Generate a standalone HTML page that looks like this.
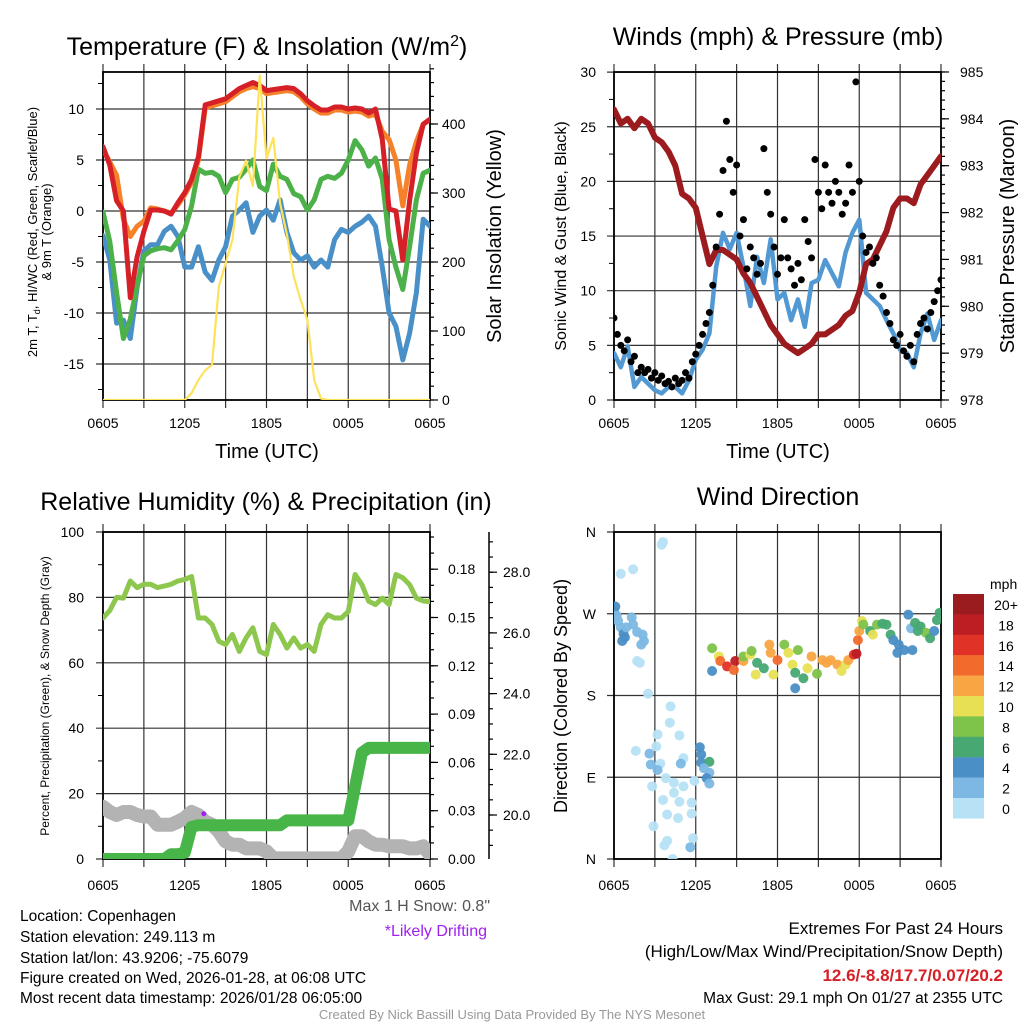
<!DOCTYPE html>
<html><head><meta charset="utf-8"><title>Mesonet station chart</title>
<style>
html,body{margin:0;padding:0;background:#fff;}
svg{display:block;font-family:"Liberation Sans",Arial,sans-serif;}
</style></head>
<body>
<svg id="fig" width="1024" height="1024" viewBox="0 0 1024 1024" xmlns="http://www.w3.org/2000/svg">
<defs>
<clipPath id="c1"><rect x="103" y="72" width="327" height="328"/></clipPath>
<clipPath id="c2"><rect x="614" y="72" width="327" height="328"/></clipPath>
<clipPath id="c3"><rect x="103" y="532" width="327" height="327"/></clipPath>
<clipPath id="c4"><rect x="614" y="532" width="327" height="327"/></clipPath>
</defs>
<g id="layer"></g>
</svg>
<script>
// ---------- data ----------
const timeLabels = ["0605","1205","1805","0005","0605"];
const tempTicks = [-15,-10,-5,0,5,10];
const insolTicks = [0,100,200,300,400];
const windTicks = [0,5,10,15,20,25,30];
const presTicks = [978,979,980,981,982,983,984,985];
const rhTicks = [0,20,40,60,80,100];
const precipTicks = ["0.00","0.03","0.06","0.09","0.12","0.15","0.18"];
const snowTicks = ["20.0","22.0","24.0","26.0","28.0"];
const dirLabels = ["N","E","S","W","N"];
const speedBins = ["0","2","4","6","8","10","12","14","16","18","20+"];
const speedColors = ["#b7e2f6","#7cb8e3","#4a8fc6","#47a872","#7ec34a","#e8e054","#f8a543","#f26a2c","#e03227","#bd1e24","#9b1c1f"];

const temp2m = [6.3,4.5,1.0,0.0,-8.5,-4.5,-2.0,0.1,0.1,0.0,-0.3,0.8,1.8,3.1,5.3,10.4,10.6,10.8,11.0,11.5,12.0,12.3,12.6,12.3,11.8,11.9,12.0,12.1,12.0,11.5,10.8,10.3,9.9,9.9,10.2,10.2,10.0,10.1,10.0,9.6,10.0,7.0,0.2,0.0,-4.8,1.0,5.7,8.5,9.0];
const temp9m = [6.0,4.8,3.5,-0.8,-2.5,-1.5,-1.0,0.3,0.2,0.0,-0.2,0.6,1.6,2.8,5.0,10.1,10.3,10.5,10.7,11.2,11.7,12.0,12.2,12.0,11.5,11.6,11.7,11.8,11.7,11.2,10.5,10.0,9.6,9.6,9.9,9.9,9.7,9.8,9.7,9.3,9.5,7.8,7.0,5.0,0.5,4.5,6.8,8.5,9.0];
const dewpt = [-0.1,-3.0,-8.0,-12.5,-10.6,-7.3,-4.4,-3.9,-3.7,-3.6,-3.8,-2.9,-1.8,0.5,4.1,3.7,3.8,3.4,1.8,3.1,3.3,4.1,5.0,2.4,2.0,4.6,3.4,3.1,1.7,1.4,0.1,1.1,3.1,3.4,3.2,3.7,5.0,6.9,6.0,4.4,5.2,3.1,-2.8,-5.5,-7.7,-3.5,1.1,3.7,4.0];
const windChill = [-2.4,-4.8,-11.0,-10.7,-12.5,-7.5,-3.9,-3.3,-3.3,-2.0,-1.5,-2.5,-5.5,-5.5,-3.5,-6.0,-6.8,-4.8,-3.5,-0.5,0.1,0.8,-2.1,-0.5,0.1,-0.9,1.1,-2.1,-4.1,-4.8,-4.4,-5.5,-4.8,-5.5,-2.8,-1.8,-2.1,-1.5,-1.1,-0.5,-1.5,-5.5,-10.0,-11.3,-14.6,-12.0,-8.0,-0.8,-1.5];
const insolation = [0,0,0,0,0,0,0,0,0,0,0,0,0,10,29,43,51,164,198,232,323,347,310,470,350,380,285,240,179,145,116,29,2,0,0,0,0,0,0,0,0,0,0,0,0,0,0,0,0];

const pressure = [984.2,983.9,984.0,983.8,984.0,983.9,983.6,983.5,983.3,983.0,982.4,982.3,982.1,981.5,980.9,981.2,981.2,981.1,981.0,980.7,980.5,980.2,979.9,979.6,979.4,979.2,979.1,979.0,979.1,979.2,979.4,979.4,979.5,979.6,979.8,979.9,980.3,980.9,981.0,981.3,981.6,982.1,982.3,982.3,982.2,982.6,982.8,983.0,983.2];
const windSpeed = [4.3,3.0,4.9,1.2,2.1,1.5,0.9,0.6,1.2,1.2,0.6,1.8,3.7,4.6,6.1,12.2,15.3,13.8,15.3,12.2,8.6,13.1,10.7,14.7,9.2,9.8,7.3,9.2,6.7,10.7,11.0,12.8,11.6,10.4,13.5,15.3,16.5,9.8,9.2,8.6,7.3,6.1,4.6,4.3,3.0,6.1,7.9,5.5,7.3];
const windGust = [7.5,6,5,4.5,5.5,3.5,4,2.5,3,2.5,2.8,2,2.5,1.8,2.2,1.5,1.7,1.2,2,1.5,1.8,2.5,2,3.5,4.2,5,6,7,8,10.5,14,17,21,25.5,22,19,21.5,15,16.5,12,14,13,11.5,12.5,23,19,17,14,11.5,13,16.5,13,12,10.5,12.5,11,16.5,14.5,13,22,19,17.5,21.5,19,18,20,19,17,18,21.5,19,29.1,20,15,13.5,14,12.5,13,10.5,9.5,8,7,5.5,5,6,4.5,4,5,3.5,6,7,7.5,6.5,8,9,10,11];

const relHum = [73.7,76,80,79.8,85,83,84,84,83,83.5,84,85,85.5,86.4,73.7,73.7,71.7,66.6,65.6,68.7,63.5,67.6,70.7,63.5,62.5,71.7,68.7,64.5,67.6,64.5,65.6,63.5,71.7,74.7,73.7,73.7,75.7,87,83.9,78.8,77.8,79.8,77.8,87,86,83.9,79.8,78.9,78.7];
const precip = [0,0,0,0,0,0,0,0,0,0,0.003,0.003,0.004,0.02,0.021,0.021,0.021,0.021,0.021,0.021,0.021,0.021,0.021,0.021,0.021,0.021,0.021,0.024,0.024,0.024,0.024,0.024,0.024,0.024,0.024,0.024,0.024,0.045,0.066,0.069,0.069,0.069,0.069,0.069,0.069,0.069,0.069,0.069,0.069];
const snowDepth = [20.27,20.1,20.0,20.1,20.1,20.0,19.95,19.95,19.68,19.68,19.68,19.78,19.9,20.1,20.0,19.78,19.68,19.46,19.13,19.02,19.02,18.9,18.9,18.9,18.8,18.57,18.57,18.57,18.57,18.57,18.57,18.57,18.57,18.57,18.57,18.57,18.8,19.3,19.3,19.13,19.02,19.02,18.97,18.97,18.97,18.9,18.9,18.97,18.7];
const driftHour = [7.4];
const driftSnow = [20.04];

const dirHours = [0.0,0.1,0.2,0.3,0.5,0.7,0.8,0.9,0.6,1.3,1.4,2.1,2.2,1.7,2.0,0.5,1.4,3.5,3.6,1.7,1.9,2.5,
 4.15,4.1,3.2,4.8,1.6,3.1,2.6,2.7,3.4,3.2,5.1,4.9,3.8,4.4,5.1,2.8,4.4,3.6,4.8,5.7,3.9,4.7,5.7,2.9,3.9,3.7,5.8,5.6,4.3,6.3,6.4,6.4,7.0,6.6,7.0,6.8,7.0,5.9,
 7.2,7.2,7.7,7.8,8.3,8.9,8.8,9.5,9.5,10.0,10.1,10.5,10.4,11.0,11.4,11.5,12.0,11.7,12.5,12.8,13.1,13.5,13.3,13.9,13.3,14.2,14.5,14.9,15.3,15.6,15.9,16.4,16.7,17.0,17.2,17.6,17.8,17.9,18.0,18.2,
 18.3,18.8,19.3,19.7,19.0,20.0,20.3,20.5,20.9,20.8,21.3,21.6,21.8,22.1,22.5,22.9,23.2,23.5,23.7,23.9,22.3,21.9];
const dirDegrees = [272,278,268,262,255,248,244,255,240,266,258,247,240,250,236,314,319,346,349,218,216,182,
 168,150,137,136,119,124,116,104,105,98,111,105,89,84,80,80,73,65,63,62,49,45,50,36,20,15,23,13,0,123,115,106,107,100,95,89,83,86,
 232,207,223,218,212,218,208,218,223,225,229,216,203,210,236,227,219,203,236,227,214,230,205,199,188,210,223,204,219,216,219,214,207,214,219,225,226,241,251,262,
 258,251,258,259,247,258,247,241,236,227,230,269,254,260,256,249,243,251,263,271,251,230];
const dirSpeeds = [4,4,3,3,3,4,4,3,4,2,3,3,3,3,2,1,1,0,0,1,1,1,
 0,0,1,0,0,1,3,3,1,3,1,3,0,0,0,0,0,0,0,0,0,0,0,0,0,0,0,3,0,4,4,4,7,3,3,4,3,1,
 8,4,10,14,17,18,15,12,8,10,8,7,10,7,12,12,14,10,8,10,10,8,6,6,4,10,12,8,12,12,12,12,10,10,12,16,18,14,12,10,
 8,7,8,7,10,6,6,4,4,4,4,4,2,6,6,8,6,4,6,6,6,4];

// ---------- helpers ----------
const NS="http://www.w3.org/2000/svg";
const root=document.getElementById('layer');
function mk(tag,attrs,parent){const e=document.createElementNS(NS,tag);for(const k in attrs)e.setAttribute(k,attrs[k]);(parent||root).appendChild(e);return e;}
function txt(s,x,y,size,anchor,parent,extra){const e=mk('text',Object.assign({x:x,y:y,'font-size':size,'text-anchor':anchor||'middle',fill:'#000'},extra||{}),parent);e.textContent=s;return e;}
const halfHours=temp2m.map((_,i)=>i*0.5);
const qHours=windGust.map((_,i)=>i*0.25);
const W=327;
const x1=h=>103+h*W/24, x2=h=>614+h*W/24;
const yT=v=>211-v*10.2, yS=s=>400-s*0.69;
const yW=v=>400-v*10.93, yP=p=>400-(p-978)*46.86;
const yRH=r=>859-r*3.27, yPr=p=>859-p/0.03*48.3, ySn=s=>815-(s-20)*30.35;
const yD=d=>859-d*(327/360);
function x4(h){return 614+h*W/24;}
function pathD(xs,ys){return xs.map((x,i)=>(i?'L':'M')+x.toFixed(1)+' '+ys[i].toFixed(1)).join(' ');}
function grid(g,L,T,R,B,hys){
  for(let k=0;k<=8;k++){const x=L+k*(R-L)/8;mk('line',{x1:x,y1:T-8,x2:x,y2:B+8,stroke:'#333','stroke-width':1.2},g);}
  hys.forEach(y=>mk('line',{x1:L-7,y1:y,x2:R,y2:y,stroke:'#333','stroke-width':1.2},g));
  mk('rect',{x:L,y:T,width:R-L,height:B-T,fill:'none',stroke:'#000','stroke-width':1.8},g);
}
function xlabels(g,L,R,y){timeLabels.forEach((s,i)=>{const t=txt(s,L+i*(R-L)/4,y,14,'middle',g);});}
function rticks(g,x,ys,len){ys.forEach(y=>mk('line',{x1:x,y1:y,x2:x+len,y2:y,stroke:'#000','stroke-width':1.2},g));}

// ============ Panel 1 ============
const p1=mk('g',{});


let t=txt('',267,55,25,'middle',p1);
t.innerHTML='Temperature (F) &amp; Insolation (W/m<tspan dy="-9" font-size="16">2</tspan><tspan dy="9">)</tspan>';


grid(p1,103,72,430,400,tempTicks.map(yT));
for(let v=-17.5;v<=12.5;v+=2.5){if(v%5!==0)mk('line',{x1:98,y1:yT(v),x2:103,y2:yT(v),stroke:'#000'},p1);}
tempTicks.forEach(v=>{const e=txt(String(v),84,yT(v)+5,14,'end',p1);});
const minorI=[];for(let s=0;s<=480;s+=20)minorI.push(yS(s));rticks(p1,430,minorI,4);
rticks(p1,430,insolTicks.map(yS),8);
insolTicks.forEach(v=>{const e=txt(String(v),442,yS(v)+5,14,'start',p1);});
xlabels(p1,103,430,428);
t=txt('Time (UTC)',267,458,20,'middle',p1);


t=txt('Solar Insolation (Yellow)',0,0,20,'middle',p1,{transform:'translate(501,236) rotate(-90)'});


t=txt('',0,0,13,'middle',p1,{transform:'translate(37,232) rotate(-90)'});
t.innerHTML='2m T, T<tspan dy="3" font-size="9">d</tspan><tspan dy="-3">, HI/WC (Red, Green, Scarlet/Blue)</tspan>';


t=txt('& 9m T (Orange)',0,0,13,'middle',p1,{transform:'translate(51,232) rotate(-90)'});


const s1=mk('g',{'clip-path':'url(#c1)','fill':'none','stroke-linejoin':'round','stroke-linecap':'round'},p1);
[[windChill,'#4a90c8','wind-chill-line',5],[dewpt,'#4bb148','dewpoint-line',5],[temp9m,'#f5812a','temp-9m-line',5],[temp2m,'#d62027','temp-2m-line',5]].forEach(([arr,c,n,w])=>{
  const e=mk('path',{d:pathD(halfHours.map(x1),arr.map(yT)),stroke:c,'stroke-width':w},s1);
  
  
});
let ins=mk('path',{d:pathD(halfHours.map(x1),insolation.map(yS)),stroke:'#fde25a','stroke-width':2.2},s1);



// ============ Panel 2 ============
const p2=mk('g',{});


t=txt('Winds (mph) & Pressure (mb)',778,45,25,'middle',p2);


grid(p2,614,72,941,400,windTicks.map(yW));
for(let v=2.5;v<30;v+=5)mk('line',{x1:609,y1:yW(v),x2:614,y2:yW(v),stroke:'#000'},p2);
windTicks.forEach(v=>{const e=txt(String(v),596,yW(v)+5,14,'end',p2);});
const minorP=[];for(let p=978;p<=985.01;p+=0.2)minorP.push(yP(p));rticks(p2,941,minorP,4);
rticks(p2,941,presTicks.map(yP),8);
presTicks.forEach(v=>{const e=txt(String(v),960,yP(v)+5,14,'start',p2);});
xlabels(p2,614,941,428);
t=txt('Time (UTC)',778,458,20,'middle',p2);


t=txt('Sonic Wind & Gust (Blue, Black)',0,0,16,'middle',p2,{transform:'translate(566,236) rotate(-90)'});


t=txt('Station Pressure (Maroon)',0,0,20,'middle',p2,{transform:'translate(1014,236) rotate(-90)'});


const s2=mk('g',{'clip-path':'url(#c2)','fill':'none','stroke-linejoin':'round','stroke-linecap':'round'},p2);
let wl=mk('path',{d:pathD(halfHours.map(x2),windSpeed.map(yW)),stroke:'#5299d3','stroke-width':4.5},s2);


let pl=mk('path',{d:pathD(halfHours.map(x2),pressure.map(yP)),stroke:'#9b1b1e','stroke-width':6},s2);


windGust.forEach((v,i)=>{
  const c=mk('circle',{cx:x2(qHours[i]),cy:yW(v),r:3.5,fill:'#000'},s2);
  
  
});

// ============ Panel 3 ============
const p3=mk('g',{});


t=txt('Relative Humidity (%) & Precipitation (in)',266,510,25,'middle',p3);


grid(p3,103,532,430,859,rhTicks.map(yRH));
for(let v=10;v<100;v+=20)mk('line',{x1:98,y1:yRH(v),x2:103,y2:yRH(v),stroke:'#000'},p3);
rhTicks.forEach(v=>{const e=txt(String(v),84,yRH(v)+5,14,'end',p3);});
const minorPr=[];for(let k=0;k<=20;k++)minorPr.push(yPr(k*0.01));rticks(p3,430,minorPr,4);
rticks(p3,430,precipTicks.map(s=>yPr(+s)),8);
precipTicks.forEach(s=>{const e=txt(s,448,yPr(+s)+5,14,'start',p3);});
let sa=mk('line',{x1:489,y1:532,x2:489,y2:859,stroke:'#000','stroke-width':1.5},p3);


const minorSn=[];for(let s=19;s<=29.01;s+=0.5)minorSn.push(ySn(s));rticks(p3,489,minorSn.filter(y=>y>532&&y<859),4);
rticks(p3,489,snowTicks.map(s=>ySn(+s)),8);
snowTicks.forEach(s=>{const e=txt(s,503,ySn(+s)+5,14,'start',p3);});
xlabels(p3,103,430,890);
t=txt('Percent, Precipitation (Green), & Snow Depth (Gray)',0,0,12,'middle',p3,{transform:'translate(49,696) rotate(-90)'});


const s3=mk('g',{'clip-path':'url(#c3)','fill':'none','stroke-linejoin':'round','stroke-linecap':'round'},p3);
let sn=mk('path',{d:pathD(halfHours.map(x1),snowDepth.map(ySn)),stroke:'#b3b3b3','stroke-width':14},s3);


let pr=mk('path',{d:pathD(halfHours.map(x1),precip.map(yPr)),stroke:'#48b548','stroke-width':12},s3);


driftHour.forEach((h,i)=>{
  const c=mk('circle',{cx:x1(h),cy:ySn(driftSnow[i]),r:2.5,fill:'#a020f0'},s3);
  
  
});
let rh=mk('path',{d:pathD(halfHours.map(x1),relHum.map(yRH)),stroke:'#8dc74e','stroke-width':5},s3);



// ============ Panel 4 ============
const p4=mk('g',{});


t=txt('Wind Direction',778,505,25,'middle',p4);


const dirY=[0,90,180,270,360].map(yD);
grid(p4,614,532,941,859,dirY);
dirLabels.forEach((s,i)=>{const e=txt(s,596,dirY[i]+5,14,'end',p4);});
xlabels(p4,614,941,890);
t=txt('Direction (Colored By Speed)',0,0,18,'middle',p4,{transform:'translate(567,696) rotate(-90)'});


const s4=mk('g',{'clip-path':'url(#c4)'},p4);
dirHours.forEach((h,i)=>{
  const bin=Math.min(10,Math.floor(dirSpeeds[i]/2));
  const c=mk('circle',{cx:x4(h),cy:yD(dirDegrees[i]),r:5,fill:speedColors[bin],'fill-opacity':0.95},s4);
  
  
});
// colorbar
const cb=mk('g',{},p4);


t=txt('mph',990,589,14,'start',cb);


speedBins.slice().reverse().forEach((lab,k)=>{
  const idx=10-k, y=594+k*20.4;
  const r=mk('rect',{x:953,y:y,width:31,height:20.6,fill:speedColors[idx]},cb);
  
  
  const e=txt(lab,1006,y+16,14,'middle',cb);
  
  
});

// ============ Footer text ============
const ft=mk('g',{});


[['Location: Copenhagen',921],['Station elevation: 249.113 m',942],['Station lat/lon: 43.9206; -75.6079',963],['Figure created on Wed, 2026-01-28, at 06:08 UTC',983],['Most recent data timestamp: 2026/01/28 06:05:00',1003]].forEach(([s,y])=>{
  const e=txt(s,20,y,15.5,'start',ft);
  
  
});
t=txt('Max 1 H Snow: 0.8"',490,911,16,'end',ft,{fill:'#555'});


t=txt('*Likely Drifting',487,936,16,'end',ft,{fill:'#a020f0'});


t=txt('Extremes For Past 24 Hours',1003,934,17,'end',ft);


t=txt('(High/Low/Max Wind/Precipitation/Snow Depth)',1003,957,17,'end',ft);


t=txt('12.6/-8.8/17.7/0.07/20.2',1003,981,17,'end',ft,{fill:'#d62027','font-weight':'bold'});


t=txt('Max Gust: 29.1 mph On 01/27 at 2355 UTC',1003,1003,15.5,'end',ft);


t=txt('Created By Nick Bassill Using Data Provided By The NYS Mesonet',512,1019,13,'middle',ft,{fill:'#999'});


</script>
</body></html>
